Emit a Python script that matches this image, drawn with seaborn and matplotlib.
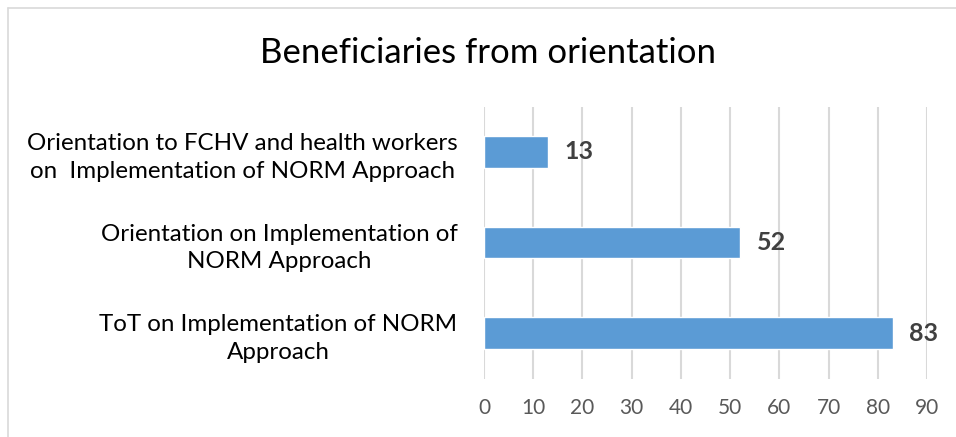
import matplotlib
matplotlib.use("Agg")
import matplotlib.pyplot as plt
import seaborn as sns
import pandas as pd
from matplotlib.lines import Line2D

# ---------------------------------------------------------------------------
# Data
# ---------------------------------------------------------------------------
categories = [
    "Orientation to FCHV and health workers\non  Implementation of NORM Approach",
    "Orientation on Implementation of\nNORM Approach",
    "ToT on Implementation of NORM\nApproach",
]
beneficiaries = [13, 52, 83]
x_ticks = list(range(0, 100, 10))

df = pd.DataFrame({"Activity": categories, "Beneficiaries": beneficiaries})

# ---------------------------------------------------------------------------
# Style
# ---------------------------------------------------------------------------
sns.set_style("white")
plt.rcParams["font.family"] = ["Lato", "DejaVu Sans"]

fig = plt.figure(figsize=(9.56, 4.37), dpi=100)
ax = fig.add_axes([484 / 956, 1 - 378.5 / 437, (927 - 484) / 956, (378.5 - 106.5) / 437])

sns.barplot(data=df, x="Beneficiaries", y="Activity", color="#5b9bd5",
            width=0.35, saturation=1, ax=ax, zorder=3)

ax.set_xlim(0, 90)
ax.set_xticks(x_ticks)
ax.grid(axis="x", color="#d9d9d9", linewidth=1.5, zorder=0)
ax.set_axisbelow(True)
for s in ax.spines.values():
    s.set_visible(False)

ax.set_xlabel("")
ax.set_ylabel("")
ax.tick_params(axis="x", length=0, labelsize=15, labelcolor="#595959", pad=14)
ax.tick_params(axis="y", length=0, labelsize=17.4, labelcolor="black", pad=19)
for lbl in ax.get_yticklabels():
    lbl.set_multialignment("center")
    lbl.set_linespacing(1.4)

# value labels
for container in ax.containers:
    ax.bar_label(container, padding=12, fontsize=18, fontweight="bold", color="#404040")

fig.text(488 / 956, 1 - 53 / 437, "Beneficiaries from orientation",
         ha="center", va="center", fontsize=25, color="black")

# chart frame (only top and left edges visible in the crop)
fig.add_artist(Line2D([7.5 / 956, 1], [1 - 7.5 / 437, 1 - 7.5 / 437],
                      transform=fig.transFigure, color="#d9d9d9", linewidth=1.2))
fig.add_artist(Line2D([7.5 / 956, 7.5 / 956], [0, 1 - 7.5 / 437],
                      transform=fig.transFigure, color="#d9d9d9", linewidth=1.2))

fig.savefig("out.png", dpi=100)
